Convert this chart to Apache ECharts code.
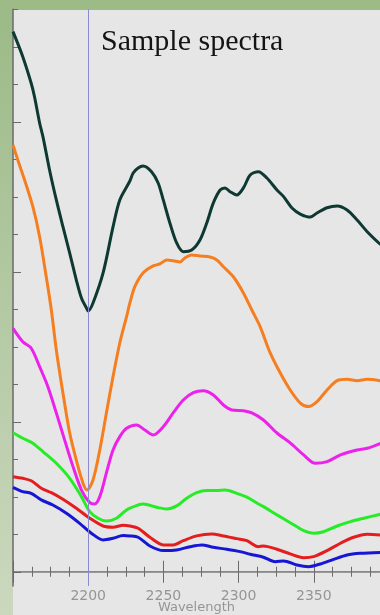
<!DOCTYPE html>
<html>
<head>
<meta charset="utf-8">
<script src="https://cdn.jsdelivr.net/npm/echarts@6/dist/echarts.min.js"></script>
<style>
  html, body { margin: 0; padding: 0; background: #e6e6e6; }
  #chart { width: 380px; height: 615px; }
</style>
</head>
<body>
<div id="chart"></div>
<script>
// Reflectance spectra, [wavelength (nm), reflectance] pairs
const darkSpectrum = [[2150,0.3601],[2156.5,0.3434],[2162.1,0.3257],[2164.3,0.3167],[2167.7,0.2992],[2169.9,0.2901],[2174.3,0.2679],[2178.8,0.2479],[2183.2,0.2301],[2187.7,0.2125],[2192.1,0.1945],[2195.5,0.1825],[2198.8,0.1759],[2200,0.1739],[2203.2,0.1792],[2209.9,0.1992],[2216.5,0.2299],[2221,0.2479],[2227.7,0.2605],[2229.9,0.2659],[2233.2,0.2692],[2236.5,0.2705],[2242.1,0.2667],[2246.5,0.2592],[2249.9,0.2479],[2254.3,0.2325],[2258.8,0.2192],[2263.2,0.2134],[2268.8,0.2145],[2274.3,0.2212],[2278.8,0.2325],[2283.2,0.2459],[2287.7,0.2545],[2291,0.2559],[2294.3,0.2534],[2298.8,0.2512],[2303.2,0.2559],[2307.7,0.2645],[2313.2,0.2667],[2318.8,0.2625],[2325.5,0.2545],[2329.9,0.2501],[2335.5,0.2425],[2341,0.2385],[2347.7,0.2365],[2352.1,0.2392],[2358.8,0.2427],[2365.5,0.2439],[2372.1,0.2412],[2378.8,0.2345],[2385.5,0.2267],[2393.2,0.2192],[2395,0.2179]];
const orangeSpectrum = [[2150,0.2845],[2153.2,0.2745],[2157.7,0.2612],[2163.2,0.2434],[2167.7,0.2234],[2172.1,0.1967],[2175.5,0.1745],[2178.8,0.1479],[2183.2,0.1192],[2187.7,0.0925],[2192.1,0.0745],[2196.5,0.0592],[2199.2,0.0545],[2203.2,0.0612],[2207.7,0.0812],[2212.1,0.1059],[2216.5,0.1301],[2221,0.1525],[2225.5,0.1701],[2227.7,0.1792],[2231,0.1901],[2236.5,0.1992],[2243.2,0.2039],[2247.7,0.2052],[2252.1,0.2079],[2256.5,0.2074],[2261,0.2065],[2264.3,0.2092],[2268.8,0.2112],[2274.3,0.2105],[2281,0.2099],[2285.5,0.2079],[2289.9,0.2034],[2296.5,0.1967],[2303.2,0.1859],[2308.8,0.1745],[2314.3,0.1634],[2321,0.1459],[2327.7,0.1325],[2334.3,0.1212],[2341,0.1125],[2346.5,0.1101],[2352.1,0.1134],[2358.8,0.1212],[2365.5,0.1274],[2372.1,0.1283],[2378.8,0.1274],[2385.5,0.1283],[2395,0.1272]];
const magentaSpectrum = [[2150,0.1623],[2156.5,0.1534],[2162.1,0.1490],[2167.7,0.1367],[2173.2,0.1234],[2178.8,0.1059],[2184.3,0.0879],[2189.9,0.0701],[2195.5,0.0545],[2201,0.0461],[2204.3,0.0452],[2207.7,0.0501],[2212.1,0.0659],[2216.5,0.0812],[2221,0.0901],[2225.5,0.0957],[2232.1,0.0979],[2237.7,0.0945],[2243.2,0.0912],[2249.9,0.0967],[2256.5,0.1059],[2263.2,0.1145],[2269.9,0.1194],[2276.5,0.1207],[2283.2,0.1179],[2289.9,0.1112],[2295.5,0.1079],[2303.2,0.1074],[2308.8,0.1059],[2316.5,0.1012],[2325.5,0.0925],[2334.3,0.0859],[2343.2,0.0779],[2351,0.0723],[2358.8,0.0734],[2367.7,0.0779],[2378.8,0.0812],[2385.5,0.0823],[2395,0.0859]];
const greenSpectrum = [[2150,0.0927],[2156.5,0.0890],[2163.2,0.0857],[2169.9,0.0801],[2178.8,0.0723],[2187.7,0.0623],[2195.5,0.0501],[2201,0.0401],[2206.5,0.0357],[2212.1,0.0339],[2218.8,0.0357],[2225.5,0.0412],[2233.2,0.0445],[2236.5,0.0452],[2245.5,0.0430],[2252.1,0.0419],[2258.8,0.0439],[2265.5,0.0490],[2272.1,0.0527],[2278.8,0.0541],[2285.5,0.0541],[2291,0.0545],[2298.8,0.0523],[2305.5,0.0497],[2313.2,0.0452],[2316.5,0.0434],[2325.5,0.0379],[2334.3,0.0327],[2343.2,0.0274],[2349.9,0.0257],[2356.5,0.0267],[2365.5,0.0305],[2374.3,0.0334],[2383.2,0.0357],[2395,0.0385]];
const redSpectrum = [[2150,0.0634],[2156.5,0.0623],[2162.1,0.0607],[2168.8,0.0557],[2175.5,0.0527],[2183.2,0.0483],[2192.1,0.0423],[2201,0.0357],[2209.9,0.0305],[2216.5,0.0297],[2223.2,0.0310],[2227.7,0.0305],[2233.2,0.0290],[2241,0.0230],[2249.9,0.0179],[2256.5,0.0179],[2263.2,0.0207],[2272.1,0.0239],[2282.1,0.0252],[2289.9,0.0239],[2298.8,0.0221],[2305.5,0.0207],[2313.2,0.0167],[2316.5,0.0172],[2325.5,0.0150],[2334.3,0.0119],[2343.2,0.0094],[2349.9,0.0101],[2358.8,0.0141],[2367.7,0.0190],[2376.5,0.0230],[2385.5,0.0250],[2395,0.0245]];
const blueSpectrum = [[2150,0.0563],[2156.5,0.0534],[2162.1,0.0523],[2168.8,0.0479],[2176.5,0.0445],[2185.5,0.0390],[2194.3,0.0323],[2202.1,0.0257],[2209.9,0.0212],[2216.5,0.0223],[2223.2,0.0241],[2227.7,0.0239],[2233.2,0.0230],[2241,0.0172],[2249.9,0.0141],[2258.8,0.0145],[2267.7,0.0167],[2275.5,0.0179],[2283.2,0.0163],[2292.1,0.0150],[2301,0.0134],[2307.7,0.0117],[2316.5,0.0097],[2324.3,0.0067],[2329.9,0.0072],[2338.8,0.0045],[2346.5,0.0034],[2354.3,0.0052],[2363.2,0.0083],[2372.1,0.0112],[2381,0.0123],[2395,0.0129]];

// Axis ranges and tick positions
const xMin = 2150, xMax = 2394;
const yMin = -0.0095, yMax = 0.375;
const yMajorTicks = [0, 0.1, 0.2, 0.3];
const yMinorTicks = [0.025, 0.05, 0.075, 0.125, 0.15, 0.175, 0.225, 0.25, 0.275, 0.325, 0.35, 0.375];
const markerWavelength = 2200;

const seriesDefs = [
  { name: 'dark', data: darkSpectrum, color: '#0e3832' },
  { name: 'orange', data: orangeSpectrum, color: '#f57f20' },
  { name: 'magenta', data: magentaSpectrum, color: '#ec22ec' },
  { name: 'green', data: greenSpectrum, color: '#26ec26' },
  { name: 'red', data: redSpectrum, color: '#e41e1e' },
  { name: 'blue', data: blueSpectrum, color: '#1616d4' }
];

const axisGrey = '#6a6a6a';
const labelGrey = '#959595';

const chart = echarts.init(document.getElementById('chart'));

const series = seriesDefs.map(function (d) {
  return {
    name: d.name,
    type: 'line',
    data: d.data,
    smooth: 0.3,
    showSymbol: false,
    symbol: 'none',
    lineStyle: { color: d.color, width: 3 },
    z: 3
  };
});
series[0].markLine = {
  silent: true,
  symbol: 'none',
  label: { show: false },
  lineStyle: { color: '#8a8ad0', width: 1, type: 'solid' },
  data: [{ xAxis: markerWavelength }]
};

chart.setOption({
  animation: false,
  backgroundColor: '#e6e6e6',
  title: {
    text: 'Sample spectra',
    left: 96,
    top: 22,
    textStyle: { fontFamily: 'Liberation Serif', fontSize: 30, fontWeight: 'normal', color: '#141414' }
  },
  graphic: [
    {
      type: 'rect',
      shape: { x: 0, y: 0, width: 13, height: 615 },
      style: {
        fill: new echarts.graphic.LinearGradient(0, 0, 0, 1, [
          { offset: 0, color: '#9bba86' },
          { offset: 0.5, color: '#b3c9a3' },
          { offset: 1, color: '#cbd8be' }
        ])
      },
      z: 0
    },
    {
      type: 'rect',
      shape: { x: 0, y: 0, width: 380, height: 10 },
      style: { fill: '#9dbb87' },
      z: 0
    }
  ],
  grid: { left: 13, right: 0, top: 9.3, bottom: 29, containLabel: false, outerBoundsMode: 'none' },
  xAxis: [
    {
      type: 'value', position: 'bottom', min: xMin, max: xMax, interval: 50,
      axisLine: { show: true, lineStyle: { color: axisGrey, width: 1.5 } },
      axisTick: { show: true, inside: true, length: 11, lineStyle: { color: axisGrey, width: 1 } },
      minorTick: { show: true, splitNumber: 4, length: 5, lineStyle: { color: axisGrey, width: 1 } },
      splitLine: { show: false },
      axisLabel: {
        show: true, margin: 3, showMinLabel: false, showMaxLabel: false,
        formatter: function (v) { return String(v); },
        fontFamily: 'DejaVu Sans', fontSize: 14, color: labelGrey
      },
      name: 'Wavelength', nameLocation: 'middle', nameGap: 15, nameMoveOverlap: false,
      nameTextStyle: { fontFamily: 'DejaVu Sans', fontSize: 13, color: labelGrey }
    },
    {
      type: 'value', position: 'top', min: xMin, max: xMax, interval: 50,
      axisLine: { show: true, lineStyle: { color: '#9a9a9a', width: 1 } },
      axisTick: { show: true, inside: true, length: 11, lineStyle: { color: axisGrey, width: 1 } },
      minorTick: { show: true, splitNumber: 4, length: 5, lineStyle: { color: axisGrey, width: 1 } },
      splitLine: { show: false },
      axisLabel: { show: false }
    }
  ],
  yAxis: [
    {
      type: 'value', position: 'left', min: yMin, max: yMax,
      axisLine: { show: true, lineStyle: { color: axisGrey, width: 1.5 } },
      axisTick: { show: true, inside: true, length: 8, customValues: yMajorTicks, lineStyle: { color: axisGrey, width: 1 } },
      axisLabel: { show: false },
      splitLine: { show: false }
    },
    {
      type: 'value', position: 'left', min: yMin, max: yMax,
      axisLine: { show: false },
      axisTick: { show: true, inside: true, length: 5, customValues: yMinorTicks, lineStyle: { color: axisGrey, width: 1 } },
      axisLabel: { show: false },
      splitLine: { show: false }
    }
  ],
  series: series
});
</script>
</body>
</html>
